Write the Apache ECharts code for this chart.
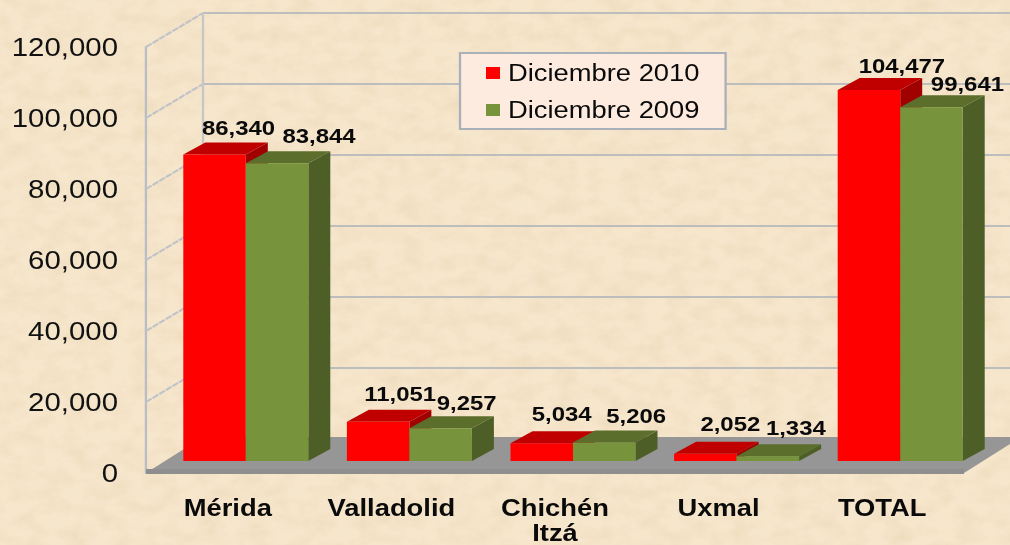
<!DOCTYPE html>
<html>
<head>
<meta charset="utf-8">
<title>Diciembre 2010 vs 2009</title>
<script src="https://cdn.jsdelivr.net/npm/echarts@6/dist/echarts.min.js"></script>
<style>
  html, body { margin: 0; width: 1010px; height: 545px; overflow: hidden; }
  body {
    background-color: #f6e6cc;
    background-image: url("data:image/svg+xml,%3Csvg xmlns='http://www.w3.org/2000/svg' width='1010' height='545'%3E%3Cfilter id='n' x='0' y='0' width='100%25' height='100%25'%3E%3CfeTurbulence type='fractalNoise' baseFrequency='0.045 0.07' numOctaves='4' seed='7'/%3E%3CfeColorMatrix values='0 0 0 0 0.78 0 0 0 0 0.62 0 0 0 0 0.40 0 0 0 1.5 -0.55'/%3E%3C/filter%3E%3Crect width='1010' height='545' filter='url(%23n)' opacity='0.45'/%3E%3C/svg%3E");
  }
  /* the original picture is stretched sideways, so the whole chart is too */
  #chart { position: absolute; left: 0; top: 0; height: 545px; transform-origin: 0 0; }
</style>
</head>
<body>
<div id="chart"></div>
<script>
const categories = ['Mérida', 'Valladolid', 'Chichén\nItzá', 'Uxmal', 'TOTAL'];
const values2010 = [86340, 11051, 5034, 2052, 104477];
const values2009 = [83844, 9257, 5206, 1334, 99641];
const yTicks = [20000, 40000, 60000, 80000, 100000, 120000];

const STRETCH = 1.14;
const sx = (px) => px / STRETCH;
const FONT = '"Liberation Sans", Arial, sans-serif';

// depth of the fake 3d box
const WALL_DX = sx(57), WALL_DY = -34;
const BAR_SHIFT_X = sx(18), BAR_SHIFT_Y = -12;
const BAR_DX = sx(22), BAR_DY = -12;
const BAR_W = sx(62.5);

// hand placed data labels, [dx, dy] from the middle of the bar top
const labelNudge2010 = [[13, -14], [11, -16], [9, -17], [14, -18], [22, -12]];
const labelNudge2009 = [[31, -15], [15, -13], [21, -15], [17, -16], [25, -11]];

const chartEl = document.getElementById('chart');
chartEl.style.width = sx(1010) + 'px';
chartEl.style.transform = 'scaleX(' + STRETCH + ')';

const poly = (points, fill) => ({
  type: 'polygon',
  shape: { points: points },
  style: { fill: fill }
});

const renderBar = (side, colors, nudges) => (params, api) => {
  const idx = api.value(0);
  const top = api.coord([idx, api.value(1)]);
  const base = api.coord([idx, 0]);
  const x0 = top[0] + BAR_SHIFT_X + (side < 0 ? -BAR_W : 0);
  const x1 = x0 + BAR_W;
  const y0 = top[1] + BAR_SHIFT_Y;
  const y1 = base[1] + BAR_SHIFT_Y;
  const n = nudges[idx];
  return {
    type: 'group',
    children: [
      poly([[x1, y0], [x1 + BAR_DX, y0 + BAR_DY], [x1 + BAR_DX, y1 + BAR_DY], [x1, y1]], colors[2]),
      poly([[x0, y0], [x0 + BAR_DX, y0 + BAR_DY], [x1 + BAR_DX, y0 + BAR_DY], [x1, y0]], colors[1]),
      poly([[x0, y0], [x1, y0], [x1, y1], [x0, y1]], colors[0]),
      {
        type: 'text',
        z2: 20,
        style: {
          text: api.value(1).toLocaleString('en-US'),
          x: (x0 + x1 + BAR_DX) / 2 + sx(n[0]),
          y: y0 + BAR_DY + n[1],
          align: 'center',
          verticalAlign: 'middle',
          fill: '#0a0a0a',
          font: 'bold 21px ' + FONT
        }
      }
    ]
  };
};

const renderWall = (params, api) => {
  const c = params.coordSys;
  const y = api.coord([0, api.value(0)])[1];
  return {
    type: 'group',
    children: [
      { type: 'line', shape: { x1: c.x, y1: y, x2: c.x + WALL_DX, y2: y + WALL_DY },
        style: { stroke: '#bfc3c8', lineWidth: 2, lineDash: [6, 1] } },
      { type: 'line', shape: { x1: c.x + WALL_DX, y1: y + WALL_DY, x2: sx(1030), y2: y + WALL_DY },
        style: { stroke: '#bdbdbd', lineWidth: 2 } }
    ]
  };
};

const renderFloor = (params, api) => {
  const c = params.coordSys;
  const left = c.x, right = c.x + c.width;
  const front = api.coord([0, 0])[1];
  const top = api.coord([0, yTicks[yTicks.length - 1]])[1];
  return {
    type: 'group',
    children: [
      { type: 'line', shape: { x1: left + WALL_DX, y1: top + WALL_DY, x2: left + WALL_DX, y2: front + WALL_DY },
        style: { stroke: '#c6c6c6', lineWidth: 2 } },
      poly([[left, front], [left + WALL_DX, front + WALL_DY - 2], [right + WALL_DX, front + WALL_DY - 2], [right, front]], '#969696'),
      poly([[left, front - 4], [right, front - 4], [right, front + 1], [left, front + 1]], '#8e8e8e')
    ]
  };
};

const option = {
  animation: false,
  backgroundColor: 'transparent',
  textStyle: { fontFamily: FONT },
  grid: { left: sx(146), top: 47, width: sx(818), height: 426, outerBoundsMode: 'none' },
  legend: {
    left: sx(460),
    top: 53,
    orient: 'vertical',
    data: ['Diciembre 2010', 'Diciembre 2009'],
    icon: 'rect',
    itemWidth: sx(14),
    itemHeight: 12,
    itemGap: 13,
    padding: [8, sx(26), 7, sx(26)],
    backgroundColor: '#fdebdf',
    borderColor: '#a9b0b8',
    borderWidth: 2,
    selectedMode: false,
    textStyle: { fontSize: 24, color: '#0a0a0a', fontFamily: FONT, padding: [0, 0, 0, 2] }
  },
  xAxis: {
    type: 'category',
    data: categories,
    axisLine: { show: false },
    axisTick: { show: false },
    axisLabel: { interval: 0, margin: 22, fontSize: 24, fontWeight: 'bold', color: '#0a0a0a', lineHeight: 25, fontFamily: FONT }
  },
  yAxis: {
    type: 'value',
    min: 0,
    max: 120000,
    interval: 20000,
    splitLine: { show: false },
    axisTick: { show: false },
    axisLine: { show: true, lineStyle: { color: '#b9bdc4', width: 2 } },
    axisLabel: { margin: sx(28), fontSize: 25.8, color: '#111111', fontFamily: FONT,
      formatter: (v) => v.toLocaleString('en-US') }
  },
  series: [
    { type: 'custom', name: 'wall', silent: true, z: 1, data: yTicks.map((v) => [v]), renderItem: renderWall },
    { type: 'custom', name: 'floor', silent: true, z: 1, data: [[0]], renderItem: renderFloor },
    {
      type: 'custom', name: 'Diciembre 2010', z: 2,
      itemStyle: { color: '#ff0000' },
      encode: { x: 0, y: 1 },
      data: values2010.map((v, i) => [i, v]),
      renderItem: renderBar(-1, ['#ff0000', '#c00000', '#a00000'], labelNudge2010)
    },
    {
      type: 'custom', name: 'Diciembre 2009', z: 2,
      itemStyle: { color: '#77933c' },
      encode: { x: 0, y: 1 },
      data: values2009.map((v, i) => [i, v]),
      renderItem: renderBar(1, ['#77933c', '#5b6e2c', '#4d5e26'], labelNudge2009)
    }
  ]
};

const chart = echarts.init(chartEl, null, { renderer: 'svg' });
chart.setOption(option);
</script>
</body>
</html>
